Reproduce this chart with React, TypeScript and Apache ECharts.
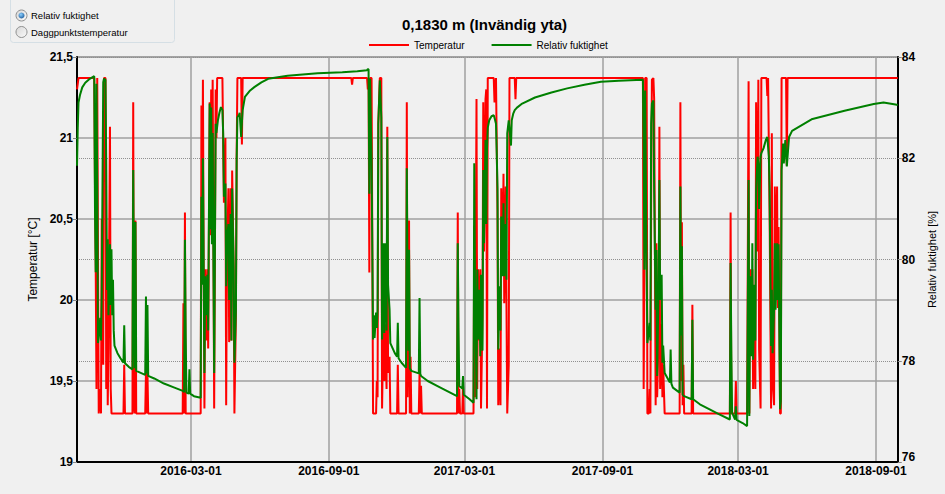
import React, { useEffect, useRef } from 'react';
import * as echarts from 'echarts';

// ---- axis ticks / labels ----
const xTickDates = ['2016-03-01', '2016-09-01', '2017-03-01', '2017-09-01', '2018-03-01', '2018-09-01'];
const xStart = '2015-10-01';
const xEnd = '2018-09-30';
const tempAxis = { min: 19, max: 21.5, interval: 0.5 };
const rhAxis = { min: 76, max: 84, interval: 2 };

const titleText = '0,1830 m (Invändig yta)';
const seriesNames = ['Temperatur', 'Relativ fuktighet'];
const radioLabels = ['Relativ fuktighet', 'Daggpunktstemperatur'];

// ---- Temperatur [°C] ----
const temperature: [string, number][] = [
  ['2015-10-01', 21.30], ['2015-10-03', 21.37], ['2015-10-24', 21.37], ['2015-10-25', 20.69], ['2015-10-26', 20.17],
  ['2015-10-27', 19.45], ['2015-10-28', 21.37], ['2015-10-29', 20.30], ['2015-10-30', 19.30], ['2015-11-01', 19.45],
  ['2015-11-02', 19.30], ['2015-11-03', 20.50], ['2015-11-05', 19.60], ['2015-11-06', 21.37], ['2015-11-08', 21.37],
  ['2015-11-09', 19.45], ['2015-11-10', 20.30], ['2015-11-11', 19.35], ['2015-11-12', 19.70], ['2015-11-14', 21.07],
  ['2015-11-15', 19.45], ['2015-11-16', 19.30], ['2015-12-02', 19.30], ['2015-12-03', 19.60], ['2015-12-04', 19.30],
  ['2015-12-14', 19.30], ['2015-12-15', 21.22], ['2015-12-16', 19.35], ['2015-12-17', 19.30], ['2015-12-18', 20.49],
  ['2015-12-19', 19.30], ['2015-12-31', 19.30], ['2016-01-01', 19.55], ['2016-01-02', 19.30], ['2016-01-03', 19.55],
  ['2016-01-04', 19.30], ['2016-02-19', 19.30], ['2016-02-20', 19.98], ['2016-02-21', 19.30], ['2016-02-22', 20.54],
  ['2016-02-23', 19.30], ['2016-03-14', 19.30], ['2016-03-15', 21.20], ['2016-03-16', 20.50], ['2016-03-17', 21.36],
  ['2016-03-18', 20.19], ['2016-03-19', 19.33], ['2016-03-20', 20.19], ['2016-03-22', 19.75], ['2016-03-23', 20.19],
  ['2016-03-24', 19.70], ['2016-03-26', 21.22], ['2016-03-27', 20.40], ['2016-03-28', 21.30], ['2016-03-29', 20.60],
  ['2016-03-30', 21.36], ['2016-03-31', 20.40], ['2016-04-01', 19.33], ['2016-04-03', 21.30], ['2016-04-04', 21.00],
  ['2016-04-05', 21.37], ['2016-04-12', 21.37], ['2016-04-14', 20.60], ['2016-04-16', 21.00], ['2016-04-17', 19.35],
  ['2016-04-18', 20.20], ['2016-04-20', 20.69], ['2016-04-21', 19.74], ['2016-04-23', 20.69], ['2016-04-24', 19.75],
  ['2016-04-25', 20.80], ['2016-04-27', 20.20], ['2016-04-28', 19.30], ['2016-04-30', 19.90], ['2016-05-01', 20.89],
  ['2016-05-02', 21.37], ['2016-05-07', 21.37], ['2016-05-08', 20.96], ['2016-05-09', 21.37], ['2016-10-01', 21.37],
  ['2016-10-02', 21.33], ['2016-10-03', 21.37],
  ['2016-10-22', 21.37], ['2016-10-23', 21.30], ['2016-10-24', 21.37], ['2016-10-25', 20.17], ['2016-10-26', 21.37],
  ['2016-10-28', 21.37], ['2016-10-30', 19.30], ['2016-11-03', 19.30], ['2016-11-04', 19.50], ['2016-11-05', 19.40],
  ['2016-11-06', 21.09], ['2016-11-08', 21.37], ['2016-11-10', 21.37], ['2016-11-11', 19.33], ['2016-11-13', 19.95],
  ['2016-11-14', 19.50], ['2016-11-15', 19.85], ['2016-11-17', 19.45], ['2016-11-18', 21.07], ['2016-11-19', 19.55],
  ['2016-11-21', 19.65], ['2016-11-22', 19.30], ['2016-12-01', 19.30], ['2016-12-02', 19.60], ['2016-12-03', 19.30],
  ['2016-12-13', 19.30], ['2016-12-14', 21.22], ['2016-12-15', 19.40], ['2016-12-16', 19.80], ['2016-12-17', 20.49],
  ['2016-12-18', 19.30], ['2016-12-19', 19.65], ['2016-12-20', 19.30], ['2016-12-30', 19.30], ['2016-12-31', 19.55],
  ['2017-01-01', 19.30], ['2017-01-02', 19.47], ['2017-01-03', 19.30], ['2017-02-19', 19.30], ['2017-02-20', 20.54],
  ['2017-02-21', 19.30], ['2017-02-22', 19.45], ['2017-02-23', 19.30], ['2017-02-26', 19.30], ['2017-02-27', 19.47],
  ['2017-02-28', 19.30], ['2017-03-13', 19.30], ['2017-03-14', 20.46], ['2017-03-15', 19.40], ['2017-03-17', 21.24],
  ['2017-03-18', 19.45], ['2017-03-19', 20.19], ['2017-03-21', 19.75], ['2017-03-22', 20.19], ['2017-03-23', 19.33],
  ['2017-03-25', 19.90], ['2017-03-26', 21.22], ['2017-03-27', 20.30], ['2017-03-29', 21.24], ['2017-03-30', 21.30],
  ['2017-03-31', 19.33], ['2017-04-01', 21.37], ['2017-04-09', 21.37], ['2017-04-10', 21.22], ['2017-04-12', 21.37],
  ['2017-04-13', 20.95], ['2017-04-14', 20.56], ['2017-04-15', 19.35], ['2017-04-17', 19.70], ['2017-04-18', 19.35],
  ['2017-04-19', 20.69], ['2017-04-21', 20.19], ['2017-04-22', 20.78], ['2017-04-23', 19.98], ['2017-04-25', 20.70],
  ['2017-04-26', 19.95], ['2017-04-27', 19.30], ['2017-04-29', 19.60], ['2017-04-30', 21.37], ['2017-05-07', 21.37],
  ['2017-05-08', 21.24], ['2017-05-09', 21.37],
  ['2017-10-25', 21.37], ['2017-10-26', 19.45], ['2017-10-27', 20.19], ['2017-10-28', 21.37], ['2017-10-30', 21.37],
  ['2017-10-31', 19.30], ['2017-11-02', 19.30], ['2017-11-03', 19.45], ['2017-11-04', 19.30], ['2017-11-05', 20.60],
  ['2017-11-06', 21.36], ['2017-11-08', 21.37], ['2017-11-09', 21.24], ['2017-11-11', 19.35], ['2017-11-12', 20.35],
  ['2017-11-13', 19.40], ['2017-11-15', 19.80], ['2017-11-16', 21.07], ['2017-11-17', 19.45], ['2017-11-19', 19.85],
  ['2017-11-20', 19.40], ['2017-11-21', 19.60], ['2017-11-23', 19.30], ['2017-12-13', 19.30], ['2017-12-14', 21.22],
  ['2017-12-15', 19.50], ['2017-12-16', 20.48], ['2017-12-17', 19.35], ['2017-12-18', 19.60], ['2017-12-19', 19.30],
  ['2017-12-29', 19.30], ['2017-12-30', 19.97], ['2017-12-31', 19.30], ['2018-02-18', 19.30], ['2018-02-19', 20.54],
  ['2018-02-20', 19.30], ['2018-02-25', 19.30], ['2018-02-26', 19.50], ['2018-02-27', 19.30], ['2018-03-13', 19.30],
  ['2018-03-15', 21.35], ['2018-03-16', 19.30], ['2018-03-17', 20.19], ['2018-03-19', 19.74], ['2018-03-20', 20.19],
  ['2018-03-21', 19.45], ['2018-03-23', 19.98], ['2018-03-24', 19.45], ['2018-03-25', 21.22], ['2018-03-27', 20.30],
  ['2018-03-28', 21.36], ['2018-03-29', 19.70], ['2018-03-31', 19.33], ['2018-04-01', 21.37], ['2018-04-08', 21.37],
  ['2018-04-09', 21.26], ['2018-04-10', 21.37], ['2018-04-11', 20.95], ['2018-04-12', 20.54], ['2018-04-14', 19.33],
  ['2018-04-15', 21.03], ['2018-04-16', 19.50], ['2018-04-18', 19.35], ['2018-04-19', 20.70], ['2018-04-20', 20.19],
  ['2018-04-22', 20.70], ['2018-04-23', 19.95], ['2018-04-24', 20.45], ['2018-04-26', 19.30], ['2018-04-27', 19.30],
  ['2018-04-28', 21.37], ['2018-05-04', 21.37], ['2018-05-05', 20.83], ['2018-05-06', 21.37], ['2018-09-30', 21.37],
];

// ---- Relativ fuktighet [%] ----
const humidity: [string, number][] = [
  ['2015-10-01', 81.85], ['2015-10-02', 82.60], ['2015-10-03', 83.10], ['2015-10-05', 83.25], ['2015-10-08', 83.40],
  ['2015-10-12', 83.49], ['2015-10-18', 83.57], ['2015-10-24', 83.62], ['2015-10-25', 81.00], ['2015-10-26', 79.75],
  ['2015-10-27', 83.47], ['2015-10-28', 81.50], ['2015-10-29', 78.35], ['2015-10-30', 78.48], ['2015-11-01', 78.85],
  ['2015-11-02', 78.40], ['2015-11-03', 79.30], ['2015-11-05', 83.50], ['2015-11-06', 83.57], ['2015-11-08', 83.55],
  ['2015-11-09', 81.90], ['2015-11-10', 79.40], ['2015-11-11', 80.40], ['2015-11-12', 78.90], ['2015-11-14', 80.30],
  ['2015-11-15', 79.10], ['2015-11-16', 80.20], ['2015-11-17', 78.90], ['2015-11-18', 79.60], ['2015-11-19', 78.60],
  ['2015-11-20', 78.30], ['2015-11-24', 78.15], ['2015-11-28', 78.05], ['2015-12-02', 77.96], ['2015-12-03', 78.70],
  ['2015-12-04', 77.95], ['2015-12-09', 77.88], ['2015-12-14', 77.83], ['2015-12-15', 81.77], ['2015-12-16', 79.00],
  ['2015-12-17', 77.85], ['2015-12-18', 80.74], ['2015-12-19', 77.80], ['2015-12-25', 77.76], ['2015-12-31', 77.72],
  ['2016-01-01', 79.27], ['2016-01-02', 77.75], ['2016-01-03', 79.10], ['2016-01-04', 77.70], ['2016-01-12', 77.65],
  ['2016-01-25', 77.55], ['2016-02-08', 77.47], ['2016-02-20', 77.40], ['2016-02-21', 77.38], ['2016-02-22', 80.39],
  ['2016-02-23', 78.50], ['2016-02-24', 77.37], ['2016-02-27', 77.35], ['2016-02-28', 77.83], ['2016-02-29', 77.35],
  ['2016-03-05', 77.30], ['2016-03-14', 77.27], ['2016-03-15', 81.24], ['2016-03-16', 79.50], ['2016-03-17', 82.00],
  ['2016-03-18', 79.80], ['2016-03-19', 77.76], ['2016-03-20', 79.67], ['2016-03-22', 78.90], ['2016-03-23', 79.70],
  ['2016-03-24', 78.60], ['2016-03-26', 83.08], ['2016-03-27', 80.60], ['2016-03-28', 83.00], ['2016-03-29', 80.30],
  ['2016-03-30', 82.50], ['2016-03-31', 80.00], ['2016-04-01', 77.76], ['2016-04-03', 82.68], ['2016-04-04', 82.50],
  ['2016-04-06', 82.75], ['2016-04-08', 82.90], ['2016-04-10', 83.01], ['2016-04-12', 82.95], ['2016-04-13', 82.50],
  ['2016-04-14', 81.24], ['2016-04-16', 81.50], ['2016-04-17', 79.47], ['2016-04-18', 80.40], ['2016-04-20', 80.70],
  ['2016-04-21', 79.20], ['2016-04-23', 80.90], ['2016-04-24', 78.40], ['2016-04-25', 81.40], ['2016-04-27', 79.80],
  ['2016-04-28', 77.96], ['2016-04-30', 79.00], ['2016-05-01', 81.96], ['2016-05-02', 82.81], ['2016-05-04', 82.85],
  ['2016-05-05', 82.90], ['2016-05-07', 82.42], ['2016-05-08', 82.70], ['2016-05-09', 82.95], ['2016-05-12', 83.21],
  ['2016-05-19', 83.34], ['2016-05-25', 83.41], ['2016-06-03', 83.50], ['2016-06-12', 83.57], ['2016-07-08', 83.63],
  ['2016-08-17', 83.68], ['2016-09-19', 83.70], ['2016-10-09', 83.72], ['2016-10-22', 83.74], ['2016-10-23', 83.76],
  ['2016-10-24', 83.76],
  ['2016-10-25', 81.30], ['2016-10-26', 83.57], ['2016-10-28', 81.96], ['2016-10-30', 78.42], ['2016-10-31', 78.90],
  ['2016-11-01', 78.45], ['2016-11-03', 78.95], ['2016-11-04', 78.65], ['2016-11-05', 79.00], ['2016-11-06', 82.68],
  ['2016-11-08', 83.54], ['2016-11-10', 82.80], ['2016-11-11', 78.42], ['2016-11-13', 80.32], ['2016-11-14', 78.55],
  ['2016-11-15', 80.32], ['2016-11-17', 78.60], ['2016-11-18', 82.42], ['2016-11-19', 79.50], ['2016-11-21', 79.01],
  ['2016-11-22', 78.35], ['2016-11-28', 78.15], ['2016-12-01', 78.08], ['2016-12-02', 78.75], ['2016-12-03', 78.05],
  ['2016-12-07', 77.96], ['2016-12-13', 77.86], ['2016-12-14', 81.80], ['2016-12-15', 79.50], ['2016-12-16', 78.20],
  ['2016-12-17', 80.19], ['2016-12-18', 77.85], ['2016-12-20', 77.80], ['2016-12-30', 77.75], ['2016-12-31', 79.24],
  ['2017-01-01', 77.74], ['2017-01-02', 77.70], ['2017-01-11', 77.60], ['2017-01-24', 77.50], ['2017-02-06', 77.40],
  ['2017-02-19', 77.30], ['2017-02-20', 80.32], ['2017-02-21', 78.60], ['2017-02-22', 77.50], ['2017-02-26', 77.45],
  ['2017-02-27', 77.70], ['2017-02-28', 77.33], ['2017-03-07', 77.25], ['2017-03-13', 77.17], ['2017-03-14', 81.90],
  ['2017-03-15', 79.50], ['2017-03-17', 77.24], ['2017-03-18', 79.80], ['2017-03-19', 78.42], ['2017-03-21', 79.40],
  ['2017-03-22', 78.09], ['2017-03-23', 79.70], ['2017-03-25', 78.20], ['2017-03-26', 81.77], ['2017-03-27', 80.32],
  ['2017-03-29', 82.36], ['2017-03-30', 80.70], ['2017-03-31', 82.20], ['2017-04-01', 82.60], ['2017-04-03', 82.75],
  ['2017-04-06', 82.83], ['2017-04-09', 82.85], ['2017-04-10', 82.80], ['2017-04-12', 82.68], ['2017-04-13', 82.10],
  ['2017-04-14', 81.40], ['2017-04-15', 78.22], ['2017-04-17', 79.47], ['2017-04-18', 78.60], ['2017-04-19', 80.85],
  ['2017-04-21', 79.67], ['2017-04-22', 81.11], ['2017-04-23', 79.67], ['2017-04-25', 80.70], ['2017-04-26', 79.60],
  ['2017-04-27', 82.49], ['2017-04-29', 82.75], ['2017-04-30', 82.60], ['2017-05-02', 82.25], ['2017-05-03', 82.75],
  ['2017-05-05', 82.88], ['2017-05-07', 82.95], ['2017-05-10', 83.00], ['2017-05-17', 83.08], ['2017-06-03', 83.20],
  ['2017-06-25', 83.30], ['2017-07-16', 83.38], ['2017-08-08', 83.45], ['2017-08-30', 83.51], ['2017-09-23', 83.53],
  ['2017-10-24', 83.55], ['2017-10-25', 83.55],
  ['2017-10-26', 82.23], ['2017-10-27', 79.80], ['2017-10-28', 83.34], ['2017-10-30', 79.73], ['2017-10-31', 78.35],
  ['2017-11-02', 78.60], ['2017-11-03', 78.75], ['2017-11-04', 78.40], ['2017-11-05', 82.68], ['2017-11-06', 83.08],
  ['2017-11-08', 83.14], ['2017-11-09', 81.37], ['2017-11-11', 79.01], ['2017-11-12', 80.19], ['2017-11-13', 77.70],
  ['2017-11-15', 79.60], ['2017-11-16', 81.57], ['2017-11-17', 79.20], ['2017-11-19', 79.70], ['2017-11-20', 77.96],
  ['2017-11-21', 78.30], ['2017-11-23', 77.76], ['2017-11-30', 77.57], ['2017-12-01', 78.22], ['2017-12-02', 77.55],
  ['2017-12-04', 77.47], ['2017-12-13', 77.37], ['2017-12-14', 81.44], ['2017-12-15', 78.50], ['2017-12-16', 80.26],
  ['2017-12-17', 77.33], ['2017-12-19', 77.30], ['2017-12-29', 77.24], ['2017-12-30', 78.81], ['2017-12-31', 77.24],
  ['2018-01-09', 77.14], ['2018-01-22', 77.04], ['2018-02-04', 76.94], ['2018-02-18', 76.84], ['2018-02-19', 79.93],
  ['2018-02-20', 78.15], ['2018-02-21', 76.97], ['2018-02-25', 76.84], ['2018-02-26', 77.10], ['2018-02-27', 76.83],
  ['2018-03-07', 76.77], ['2018-03-13', 76.71], ['2018-03-15', 81.57], ['2018-03-16', 76.91], ['2018-03-17', 79.67],
  ['2018-03-19', 78.09], ['2018-03-20', 80.32], ['2018-03-21', 78.02], ['2018-03-23', 79.50], ['2018-03-24', 78.40],
  ['2018-03-25', 81.37], ['2018-03-27', 82.03], ['2018-03-28', 81.90], ['2018-03-29', 81.00], ['2018-03-31', 82.03],
  ['2018-04-01', 82.10], ['2018-04-04', 82.20], ['2018-04-07', 82.36], ['2018-04-09', 82.42], ['2018-04-11', 82.03],
  ['2018-04-12', 81.40], ['2018-04-14', 78.29], ['2018-04-15', 79.40], ['2018-04-16', 78.15], ['2018-04-18', 79.01],
  ['2018-04-19', 80.32], ['2018-04-20', 79.01], ['2018-04-22', 80.32], ['2018-04-23', 79.20], ['2018-04-24', 80.30],
  ['2018-04-26', 77.04], ['2018-04-27', 77.20], ['2018-04-28', 81.77], ['2018-04-30', 82.29], ['2018-05-01', 81.90],
  ['2018-05-03', 82.36], ['2018-05-05', 81.84], ['2018-05-08', 82.42], ['2018-05-12', 82.54], ['2018-06-07', 82.77],
  ['2018-07-21', 82.94], ['2018-08-29', 83.07], ['2018-09-11', 83.10], ['2018-09-27', 83.06], ['2018-09-30', 83.05],
];

const FONT = '"Liberation Sans", Arial, sans-serif';

function localTime(s: string): number {
  const [y, m, d] = s.split('-').map(Number);
  return new Date(y, m - 1, d).getTime();
}
function fmtDate(v: number): string {
  const d = new Date(v);
  const mm = String(d.getMonth() + 1).padStart(2, '0');
  const dd = String(d.getDate()).padStart(2, '0');
  return `${d.getFullYear()}-${mm}-${dd}`;
}

export default function App() {
  const ref = useRef<HTMLDivElement>(null);
  useEffect(() => {
    if (!ref.current) return;
    const chart = echarts.init(ref.current, null, { renderer: 'svg' });
    const xTicks = xTickDates.map(localTime);
    const radioFill = new echarts.graphic.LinearGradient(0, 0, 1, 1, [
      { offset: 0, color: '#d6d6d6' },
      { offset: 1, color: '#fbfbfb' },
    ]);
    const dotFill = new echarts.graphic.RadialGradient(0.4, 0.35, 0.7, [
      { offset: 0, color: '#8cd0ff' },
      { offset: 1, color: '#1c5b9b' },
    ]);
    const labelFont = { fontFamily: FONT, fontSize: 12, fontWeight: 'bold' as const, color: '#000' };
    chart.setOption({
      animation: false,
      backgroundColor: '#f0f0f0',
      title: {
        text: titleText,
        left: 402,
        top: 17,
        padding: 0,
        textStyle: { fontFamily: FONT, fontSize: 15, fontWeight: 'bold', color: '#000' },
      },
      legend: {
        data: seriesNames,
        left: 369,
        top: 40,
        padding: 0,
        icon: 'rect',
        itemWidth: 40,
        itemHeight: 2,
        itemGap: 27,
        textStyle: { fontFamily: FONT, fontSize: 10, color: '#000' },
      },
      grid: {
        left: 77,
        right: 40,
        top: 57,
        bottom: 32,
        show: true,
        borderColor: '#6a6a6a',
        borderWidth: 1,
        backgroundColor: 'transparent',
      },
      xAxis: {
        type: 'value',
        min: localTime(xStart),
        max: localTime(xEnd),
        axisLine: { show: true, onZero: false, lineStyle: { color: '#000', width: 2 } },
        axisTick: { show: false, customValues: xTicks },
        axisLabel: {
          customValues: xTicks,
          formatter: (v: number) => fmtDate(v),
          ...labelFont,
          margin: 3,
        },
        splitLine: { show: true, lineStyle: { color: '#a0a0a0', width: 1.5 } },
      },
      yAxis: [
        {
          type: 'value',
          position: 'left',
          min: tempAxis.min,
          max: tempAxis.max,
          interval: tempAxis.interval,
          name: 'Temperatur [°C]',
          nameLocation: 'middle',
          nameRotate: 90,
          nameGap: 28,
          nameTextStyle: { fontFamily: FONT, fontSize: 12, color: '#000' },
          axisLine: { show: true, lineStyle: { color: '#000', width: 2 } },
          axisTick: { show: true, length: 4, lineStyle: { color: '#888' } },
          axisLabel: {
            formatter: (v: number) => String(v).replace('.', ','),
            ...labelFont,
            margin: 4,
          },
          splitLine: { show: true, lineStyle: { color: '#a0a0a0', width: 1.5 } },
        },
        {
          type: 'value',
          position: 'right',
          min: rhAxis.min,
          max: rhAxis.max,
          interval: rhAxis.interval,
          name: 'Relativ fuktighet [%]',
          nameLocation: 'middle',
          nameRotate: 90,
          nameGap: 24,
          nameTextStyle: { fontFamily: FONT, fontSize: 11, color: '#000' },
          axisLine: { show: true, lineStyle: { color: '#000', width: 2 } },
          axisTick: { show: true, length: 4, lineStyle: { color: '#888' } },
          axisLabel: {
            formatter: (v: number) => (v === rhAxis.min ? `{low|${v}}` : String(v)),
            ...labelFont,
            margin: 4,
            rich: { low: { ...labelFont, padding: [0, 0, 10, 0] } },
          },
          splitLine: { show: true, lineStyle: { color: '#909090', width: 1, type: 'dotted' } },
        },
      ],
      series: [
        {
          name: seriesNames[0],
          type: 'line',
          yAxisIndex: 0,
          data: temperature.map(([d, v]) => [localTime(d), v]),
          showSymbol: false,
          symbol: 'none',
          lineStyle: { color: '#ff0000', width: 2 },
          itemStyle: { color: '#ff0000' },
          silent: true,
        },
        {
          name: seriesNames[1],
          type: 'line',
          yAxisIndex: 1,
          data: humidity.map(([d, v]) => [localTime(d), v]),
          showSymbol: false,
          symbol: 'none',
          lineStyle: { color: '#008000', width: 2 },
          itemStyle: { color: '#008000' },
          silent: true,
        },
      ],
      graphic: [
        {
          type: 'rect',
          silent: true,
          shape: { x: 10.5, y: -5.5, width: 164, height: 48, r: 3 },
          style: { fill: 'none', stroke: '#d5dfe5', lineWidth: 1 },
        },
        {
          type: 'circle',
          silent: true,
          shape: { cx: 21.5, cy: 15.5, r: 5.5 },
          style: { fill: radioFill, stroke: '#8e8f8f', lineWidth: 1 },
        },
        {
          type: 'circle',
          silent: true,
          shape: { cx: 21.5, cy: 15.5, r: 3 },
          style: { fill: dotFill },
        },
        {
          type: 'circle',
          silent: true,
          shape: { cx: 21.5, cy: 32, r: 5.5 },
          style: { fill: radioFill, stroke: '#8e8f8f', lineWidth: 1 },
        },
        {
          type: 'text',
          silent: true,
          x: 31,
          y: 15.5,
          style: { text: radioLabels[0], fontFamily: FONT, fontSize: 9.5, fill: '#000', verticalAlign: 'middle' },
        },
        {
          type: 'text',
          silent: true,
          x: 31,
          y: 32,
          style: { text: radioLabels[1], fontFamily: FONT, fontSize: 9.5, fill: '#000', verticalAlign: 'middle' },
        },
      ],
    });
    return () => chart.dispose();
  }, []);
  return (
    <div
      ref={ref}
      style={{ position: 'fixed', left: 0, top: 0, width: 945, height: 494, background: '#f0f0f0' }}
    />
  );
}
